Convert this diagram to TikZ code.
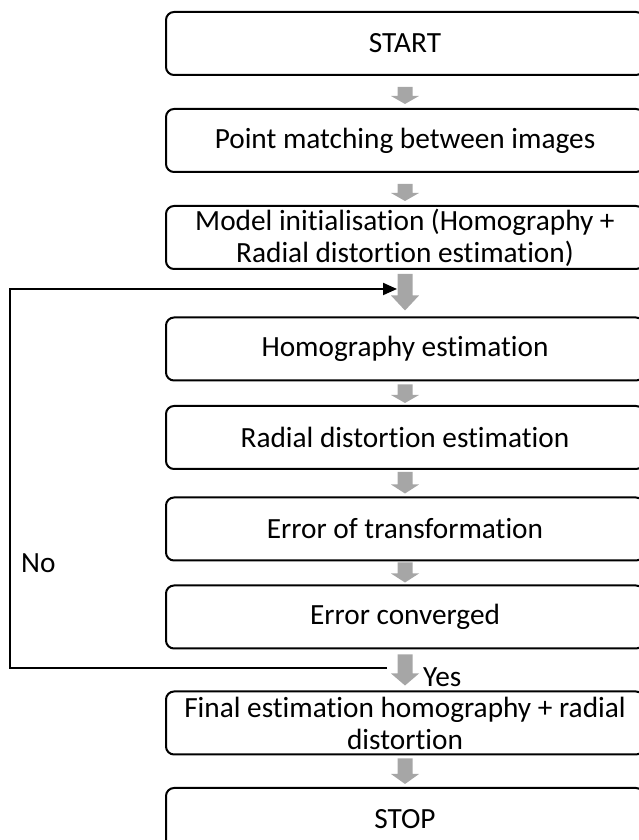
\documentclass[tikz,border=0pt]{standalone}
\usepackage{fontspec}
\setmainfont{Carlito}[Ligatures=NoCommon]
\usetikzlibrary{arrows.meta,calc}
\definecolor{arrowgray}{HTML}{A6A6A6}
\tikzset{
  box/.style={draw=black, line width=2pt, rounded corners=8pt, minimum width=478pt, minimum height=63pt,
    align=center, inner sep=0pt, font=\fontsize{29.3}{32}\selectfont},
  lbl/.style={inner sep=0pt, font=\fontsize{29.3}{32}\selectfont},
  loopline/.style={draw=black, line width=2pt, -{Triangle[length=14pt,width=12pt]}}
}
% block arrow from node #1 to node #2: top gap #3, bottom gap #4, head length #5
\newcommand\garrow[5]{%
  \fill[arrowgray] let \p1=($(#1.south)+(0,-#3)$), \p2=($(#2.north)+(0,#4)$) in
    (\x1-7.5pt,\y1) -- (\x1+7.5pt,\y1) -- (\x1+7.5pt,\y2+#5pt) -- (\x1+14pt,\y2+#5pt)
    -- (\x1,\y2) -- (\x1-14pt,\y2+#5pt) -- (\x1-7.5pt,\y2+#5pt) -- cycle;}
\begin{document}
\begin{tikzpicture}[x=1pt,y=1pt]
\useasboundingbox (0,0) rectangle (639,840);
\clip (0,0) rectangle (639,840);
\node[box] (start) at (405,796.5) {START};
\node[box] (match) at (405,699.5) {Point matching between images};
\node[box] (init) at (405,602.5) {Model initialisation (Homography +\\Radial distortion estimation)};
\node[box] (homog) at (405,491) {Homography estimation};
\node[box] (radial) at (405,402.5) {Radial distortion estimation};
\node[box] (errt) at (405,311) {Error of transformation};
\node[box] (conv) at (405,223) {Error converged};
\node[box] (final) at (405,117) {Final estimation homography + radial\\distortion};
\node[box] (stop) at (405,20.5) {STOP};

\garrow{start}{match}{11}{4}{8}
\garrow{match}{init}{11}{4}{8}
\garrow{init}{homog}{4}{6}{15}
\garrow{homog}{radial}{3}{2}{8}
\garrow{radial}{errt}{2}{3}{9}
\garrow{errt}{conv}{1}{2}{9}
\garrow{conv}{final}{5}{5}{12}
\garrow{final}{stop}{3}{3}{10}

\coordinate (loopstart) at (387,172);
\coordinate (loopend) at (397,551);
\draw[loopline] (loopstart) -- (10,172) |- (loopend);
\node[lbl, anchor=west] (no) at (21,277) {No};
\node[lbl, anchor=west] (yes) at (423,163) {Yes};
\end{tikzpicture}
\end{document}
